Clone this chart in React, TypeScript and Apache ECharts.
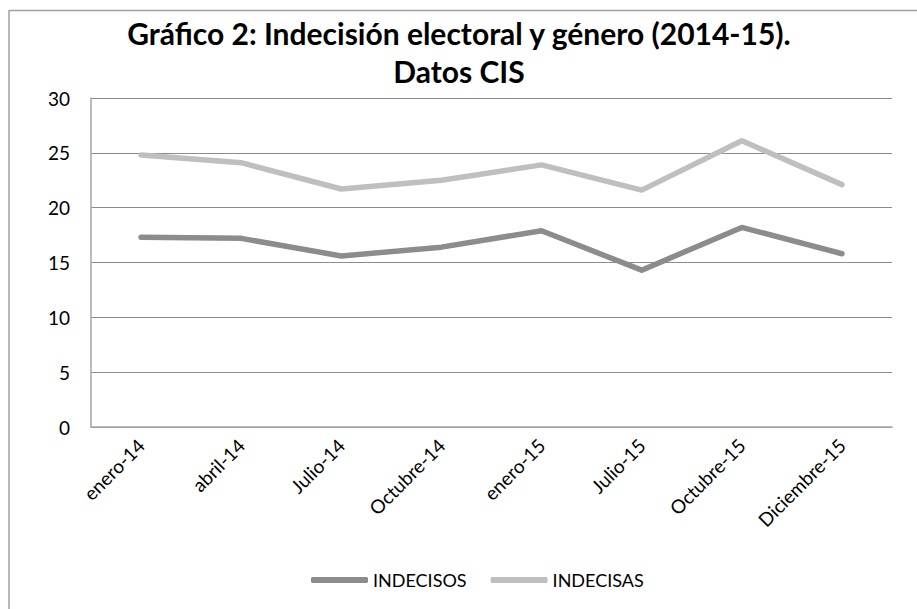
import React, { useEffect, useRef } from "react";
import * as echarts from "echarts";

const categories = ["enero-14", "abril-14", "Julio-14", "Octubre-14", "enero-15", "Julio-15", "Octubre-15", "Diciembre-15"];
const indecisos = [17.3, 17.2, 15.6, 16.4, 17.9, 14.3, 18.2, 15.8];
const indecisas = [24.8, 24.1, 21.7, 22.5, 23.9, 21.6, 26.1, 22.1];
const seriesNames = ["INDECISOS", "INDECISAS"];
const titleLines = ["Gráfico 2: Indecisión electoral y género (2014-15).", "Datos CIS"];

const FONT = "Lato, 'Open Sans', sans-serif";

export default function App() {
  const ref = useRef<HTMLDivElement>(null);
  useEffect(() => {
    if (!ref.current) return;
    const chart = echarts.init(ref.current, undefined, { renderer: "svg" });
    chart.setOption({
      animation: false,
      backgroundColor: "#ffffff",
      title: {
        text: titleLines.join("\n"),
        left: 454,
        textAlign: "center",
        top: 9,
        textStyle: {
          fontFamily: FONT,
          fontWeight: "bold",
          fontSize: 30,
          lineHeight: 38,
          color: "#000000",
        },
      },
      graphic: [
        { type: "line", shape: { x1: 9, y1: 10.5, x2: 917, y2: 10.5 }, style: { stroke: "#a0a0a0", lineWidth: 1.5 } },
        { type: "line", shape: { x1: 9, y1: 10, x2: 9, y2: 609 }, style: { stroke: "#a0a0a0", lineWidth: 1.5 } },
      ],
      legend: {
        left: 306,
        top: 566,
        icon: "roundRect",
        itemWidth: 57,
        itemHeight: 6,
        itemGap: 24,
        textStyle: { fontFamily: FONT, fontSize: 18, color: "#000000" },
        data: seriesNames,
      },
      grid: { left: 91, right: 25, top: 98, bottom: 182, containLabel: false },
      xAxis: {
        type: "category",
        data: categories,
        boundaryGap: true,
        axisLine: { show: true, lineStyle: { color: "#a6a6a6", width: 1.5 } },
        axisTick: { show: false },
        axisLabel: {
          rotate: 45,
          margin: 15,
          interval: 0,
          fontFamily: FONT,
          fontSize: 19,
          color: "#000000",
        },
      },
      yAxis: {
        type: "value",
        min: 0,
        max: 30,
        interval: 5,
        axisLine: { show: true, lineStyle: { color: "#a6a6a6", width: 1.5 } },
        axisTick: { show: false },
        splitLine: { show: true, lineStyle: { color: "#8c8c8c", width: 1 } },
        axisLabel: { margin: 21, fontFamily: FONT, fontSize: 19, color: "#000000" },
      },
      series: [
        {
          name: seriesNames[0],
          type: "line",
          data: indecisos,
          showSymbol: false,
          symbol: "none",
          lineStyle: { color: "#8c8c8c", width: 5.5, cap: "round", join: "round" },
          itemStyle: { color: "#8c8c8c" },
        },
        {
          name: seriesNames[1],
          type: "line",
          data: indecisas,
          showSymbol: false,
          symbol: "none",
          lineStyle: { color: "#bfbfbf", width: 5.5, cap: "round", join: "round" },
          itemStyle: { color: "#bfbfbf" },
        },
      ],
    });
    return () => chart.dispose();
  }, []);
  return (
    <div style={{ position: "fixed", left: 0, top: 0, width: 917, height: 609, background: "#fff" }}>
      <div ref={ref} style={{ width: 917, height: 609 }} />
    </div>
  );
}
